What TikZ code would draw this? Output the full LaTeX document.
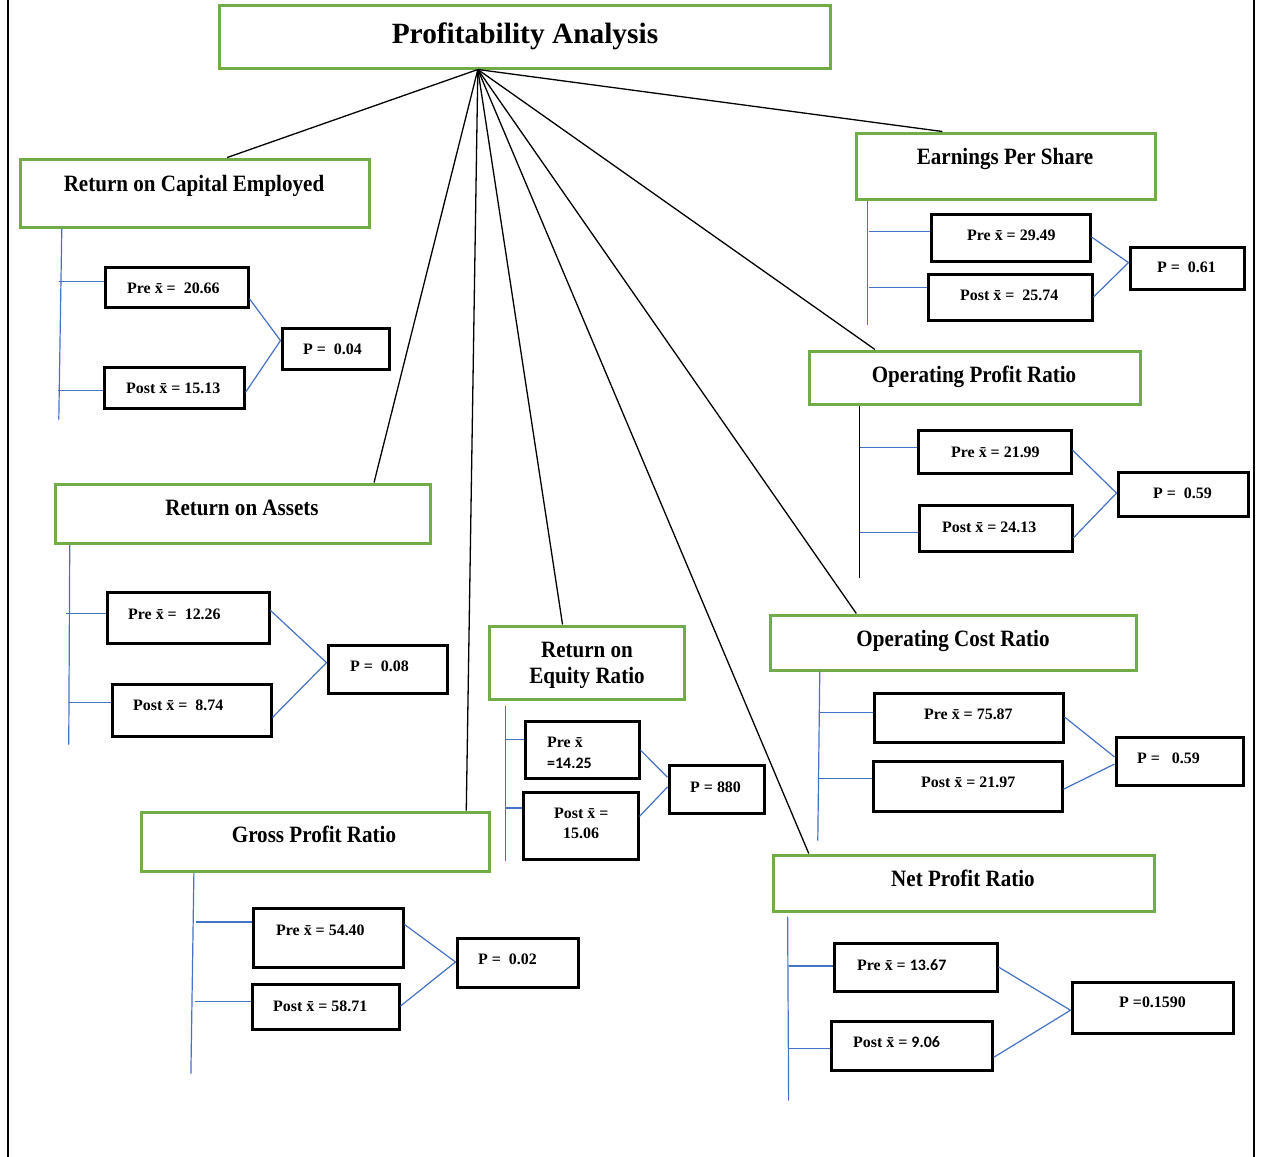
\documentclass[tikz,border=0pt]{standalone}
\usepackage{fontspec}
\setmainfont{Liberation Serif}
\newfontfamily\headfont[FakeStretch=0.9]{Liberation Serif}
\newfontfamily\numfont{Carlito}
\usetikzlibrary{fit,calc}

\definecolor{frgreen}{HTML}{70AD47}
\definecolor{linkblue}{HTML}{4472C4}

\tikzset{
  head/.style={draw=frgreen, line width=3bp, inner sep=0pt},
  cell/.style={draw=black, line width=3bp, inner sep=0pt},
  link/.style={draw=linkblue, line width=1.2bp},
  fan/.style={draw=black, line width=1.3bp},
  ttext/.style={anchor=base, inner sep=0pt, font=\bfseries\fontsize{29.5}{32}\selectfont},
  htext/.style={anchor=base, inner sep=0pt, font=\headfont\bfseries\fontsize{23.5}{26}\selectfont},
  vtext/.style={anchor=base west, inner sep=0pt, font=\bfseries\fontsize{16}{18}\selectfont},
}

\begin{document}
\begin{tikzpicture}[x=1bp, y=-1bp]
\useasboundingbox (0,0) rectangle (1262,1157);

% page frame (side rules only)
\draw[line width=1.8bp] (8,0) -- (8,1157);
\draw[line width=1.8bp] (1254,0) -- (1254,1157);

% ---------- title ----------
\node[head, fit={(219,5) (830,68)}] (title) {};
\node[ttext] (title-t) at (525,43) {Profitability Analysis};

% ---------- heading boxes ----------
\node[head, fit={(20,159) (369,227)}]   (roce) {};
\node[head, fit={(55,484) (430,543)}]   (roa)  {};
\node[head, fit={(141,812) (489,871)}]  (gpr)  {};
\node[head, fit={(489,626) (684,699)}]  (roe)  {};
\node[head, fit={(856,133) (1155,199)}] (eps)  {};
\node[head, fit={(809,351) (1140,404)}] (opr)  {};
\node[head, fit={(770,615) (1136,670)}] (ocr)  {};
\node[head, fit={(773,855) (1154,911)}] (npr)  {};

\node[htext] (roce-t) at (194,191) {Return on Capital Employed};
\node[htext] (roa-t)  at (242,515) {Return on Assets};
\node[htext] (gpr-t)  at (314,842) {Gross Profit Ratio};
\node[htext] (roe-t1) at (587,657) {Return on};
\node[htext] (roe-t2) at (587,683) {Equity Ratio};
\node[htext] (eps-t)  at (1005,164) {Earnings Per Share};
\node[htext] (opr-t)  at (974,382) {Operating Profit Ratio};
\node[htext] (ocr-t)  at (953,646) {Operating Cost Ratio};
\node[htext] (npr-t)  at (963,886) {Net Profit Ratio};

% ---------- value boxes ----------
\node[cell, fit={(105,267) (248,307)}]   (roce-pre)  {};
\node[cell, fit={(104,367) (244,408)}]   (roce-post) {};
\node[cell, fit={(282,328) (389,369)}]   (roce-p)    {};

\node[cell, fit={(107,592) (269,643)}]   (roa-pre)   {};
\node[cell, fit={(112,684) (271,736)}]   (roa-post)  {};
\node[cell, fit={(328,645) (447,693)}]   (roa-p)     {};

\node[cell, fit={(253,908) (403,967)}]   (gpr-pre)   {};
\node[cell, fit={(252,984) (399,1029)}]  (gpr-post)  {};
\node[cell, fit={(457,938) (578,987)}]   (gpr-p)     {};

\node[cell, fit={(525,721) (639,778)}]   (roe-pre)   {};
\node[cell, fit={(523,792) (638,859)}]   (roe-post)  {};
\node[cell, fit={(669,765) (764,813)}]   (roe-p)     {};

\node[cell, fit={(931,214) (1090,261)}]  (eps-pre)   {};
\node[cell, fit={(928,274) (1092,320)}]  (eps-post)  {};
\node[cell, fit={(1130,247) (1244,289)}] (eps-p)     {};

\node[cell, fit={(918,430) (1071,473)}]  (opr-pre)   {};
\node[cell, fit={(919,505) (1072,551)}]  (opr-post)  {};
\node[cell, fit={(1118,472) (1248,516)}] (opr-p)     {};

\node[cell, fit={(874,693) (1063,742)}]  (ocr-pre)   {};
\node[cell, fit={(873,761) (1062,811)}]  (ocr-post)  {};
\node[cell, fit={(1116,737) (1243,785)}] (ocr-p)     {};

\node[cell, fit={(834,943) (997,991)}]   (npr-pre)   {};
\node[cell, fit={(831,1021) (992,1070)}] (npr-post)  {};
\node[cell, fit={(1072,982) (1233,1033)}] (npr-p)    {};

% ---------- value texts ----------
\node[vtext] (roce-pre-t)  at (127,293) {Pre x̄ =~ 20.66};
\node[vtext] (roce-post-t) at (126,393) {Post x̄ = 15.13};
\node[vtext] (roce-p-t)    at (303,354) {P =~ 0.04};

\node[vtext] (roa-pre-t)   at (128,619) {Pre x̄ =~~12.26};
\node[vtext] (roa-post-t)  at (133,710) {Post x̄ =~ 8.74};
\node[vtext] (roa-p-t)     at (350,671) {P =~ 0.08};

\node[vtext] (gpr-pre-t)   at (276,935) {Pre x̄ = 54.40};
\node[vtext] (gpr-post-t)  at (273,1011) {Post x̄ = 58.71};
\node[vtext] (gpr-p-t)     at (478,964) {P =~ 0.02};

\node[vtext] (roe-pre-t1)  at (547,747) {Pre x̄};
\node[vtext] (roe-pre-t2)  at (547,768) {\numfont =14.25};
\node[vtext] (roe-post-t1) at (554,818) {Post x̄ =};
\node[vtext] (roe-post-t2) at (563,838) {15.06};
\node[vtext] (roe-p-t)     at (690,792) {P = 880};

\node[vtext] (eps-pre-t)   at (967,240) {Pre x̄ = 29.49};
\node[vtext] (eps-post-t)  at (960,300) {Post x̄ =~ 25.74};
\node[vtext] (eps-p-t)     at (1157,272) {P =~ 0.61};

\node[vtext] (opr-pre-t)   at (951,457) {Pre x̄ = 21.99};
\node[vtext] (opr-post-t)  at (942,532) {Post x̄ = 24.13};
\node[vtext] (opr-p-t)     at (1153,498) {P =~ 0.59};

\node[vtext] (ocr-pre-t)   at (924,719) {Pre x̄ = 75.87};
\node[vtext] (ocr-post-t)  at (921,787) {Post x̄ = 21.97};
\node[vtext] (ocr-p-t)     at (1137,763) {P =~~ 0.59};

\node[vtext] (npr-pre-t)   at (857,970) {Pre x̄ = {\numfont 13.67}};
\node[vtext] (npr-post-t)  at (853,1047) {Post x̄ = {\numfont 9.06}};
\node[vtext] (npr-p-t)     at (1119,1007) {P =0.1590};

% ---------- fan from the title ----------
\coordinate (hub) at ($(title.south west)!0.424!(title.south east)$);
\draw[fan] (hub) -- ($(roce.north west)!0.593!(roce.north east)$);
\draw[fan] (hub) -- ($(roa.north west)!0.848!(roa.north east)$);
\draw[fan] (hub) -- ($(gpr.north west)!0.931!(gpr.north east)$);
\draw[fan] (hub) -- ($(roe.north west)!0.379!(roe.north east)$);
\draw[fan] (hub) -- ($(npr.north west)!0.097!(npr.north east)$);
\draw[fan] (hub) -- ($(ocr.north west)!0.238!(ocr.north east)$);
\draw[fan] (hub) -- ($(opr.north west)!0.202!(opr.north east)$);
\draw[fan] (hub) -- ($(eps.north west)!0.291!(eps.north east)$);

% ---------- trunks under each heading ----------
\draw[link] ($(roce.south west)!0.123!(roce.south east)$) -- ++(-3,191);
\draw[link] ($(roa.south west)!0.043!(roa.south east)$) -- ++(-1,200);
\draw[link] ($(gpr.south west)!0.155!(gpr.south east)$) -- ++(-3,201);
\draw[link] ($(roe.south west)!0.092!(roe.south east)+(0,5)$) -- ++(0,155);
\draw[link] ($(eps.south west)!0.043!(eps.south east)$) -- ++(0,124);
\draw[fan, line width=1.1bp] ($(opr.south west)!0.157!(opr.south east)$) -- ++(0,172);
\draw[link] ($(ocr.south west)!0.139!(ocr.south east)$) -- ++(-2,169);
\draw[link] ($(npr.south west)!0.042!(npr.south east)+(0,4)$) -- ++(1,184);

% ---------- branches into the Pre / Post boxes ----------
\draw[link] ($(roce-pre.north west)!0.375!(roce-pre.south west)$) -- ++(-45,0);
\draw[link] ($(roce-post.north west)!0.56!(roce-post.south west)$) -- ++(-45,0);
\draw[link] ($(roa-pre.north west)!0.43!(roa-pre.south west)$) -- ++(-40,0);
\draw[link] ($(roa-post.north west)!0.365!(roa-post.south west)$) -- ++(-42,0);
\draw[link] ($(gpr-pre.north west)!0.25!(gpr-pre.south west)$) -- ++(-56,0);
\draw[link] ($(gpr-post.north west)!0.4!(gpr-post.south west)$) -- ++(-56,0);
\draw[link] ($(roe-pre.north west)!0.33!(roe-pre.south west)$) -- ++(-18,0);
\draw[link] ($(roe-post.north west)!0.25!(roe-post.south west)$) -- ++(-16,0);
\draw[link] ($(eps-pre.north west)!0.38!(eps-pre.south west)$) -- ++(-61,0);
\draw[link] ($(eps-post.north west)!0.3!(eps-post.south west)$) -- ++(-58,0);
\draw[link] ($(opr-pre.north west)!0.42!(opr-pre.south west)$) -- ++(-57,0);
\draw[link] ($(opr-post.north west)!0.59!(opr-post.south west)$) -- ++(-58,0);
\draw[link] ($(ocr-pre.north west)!0.41!(ocr-pre.south west)$) -- ++(-53,0);
\draw[link] ($(ocr-post.north west)!0.36!(ocr-post.south west)$) -- ++(-53,0);
\draw[link] ($(npr-pre.north west)!0.48!(npr-pre.south west)$) -- ++(-44,0);
\draw[link] ($(npr-post.north west)!0.55!(npr-post.south west)$) -- ++(-41,0);

% ---------- Pre / Post joined to the P value ----------
\draw[link] ($(roce-pre.north east)!0.775!(roce-pre.south east)$) -- ($(roce-p.north west)!0.32!(roce-p.south west)$)
            -- ($(roce-post.north east)!0.61!(roce-post.south east)$);
\draw[link] ($(roa-pre.north east)!0.37!(roa-pre.south east)$) -- ($(roa-p.north west)!0.375!(roa-p.south west)$)
            -- ($(roa-post.north east)!0.635!(roa-post.south east)$);
\draw[link] ($(gpr-pre.north east)!0.29!(gpr-pre.south east)$) -- ($(gpr-p.north west)!0.49!(gpr-p.south west)$)
            -- ($(gpr-post.north east)!0.49!(gpr-post.south east)$);
\draw[link] ($(roe-pre.north east)!0.51!(roe-pre.south east)$) -- ($(roe-p.north west)!0.27!(roe-p.south west)$);
\draw[link] ($(roe-post.north east)!0.37!(roe-post.south east)$) -- ($(roe-p.north west)!0.46!(roe-p.south west)$);
\draw[link] ($(eps-pre.north east)!0.49!(eps-pre.south east)$) -- ($(eps-p.north west)!0.38!(eps-p.south west)$)
            -- ($(eps-post.north east)!0.5!(eps-post.south east)$);
\draw[link] ($(opr-pre.north east)!0.47!(opr-pre.south east)$) -- ($(opr-p.north west)!0.48!(opr-p.south west)$)
            -- ($(opr-post.north east)!0.7!(opr-post.south east)$);
\draw[link] ($(ocr-pre.north east)!0.49!(ocr-pre.south east)$) -- ($(ocr-p.north west)!0.42!(ocr-p.south west)$);
\draw[link] ($(ocr-post.north east)!0.56!(ocr-post.south east)$) -- ($(ocr-p.north west)!0.56!(ocr-p.south west)$);
\draw[link] ($(npr-pre.north east)!0.5!(npr-pre.south east)$) -- ($(npr-p.north west)!0.55!(npr-p.south west)$)
            -- ($(npr-post.north east)!0.73!(npr-post.south east)$);
\end{tikzpicture}
\end{document}
